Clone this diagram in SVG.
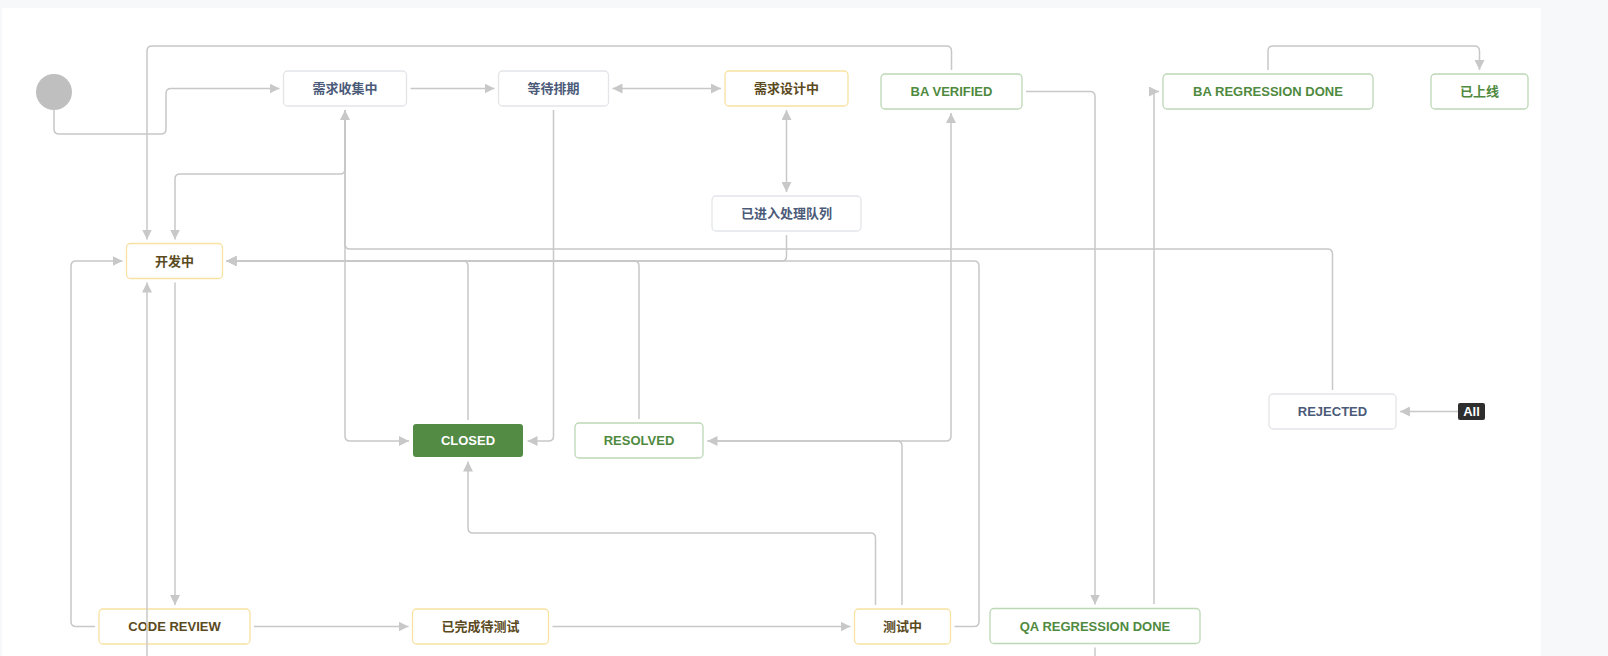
<svg xmlns="http://www.w3.org/2000/svg" width="1608" height="656" viewBox="0 0 1608 656">
<defs>
<marker id="ah" viewBox="0 0 10 10" refX="10" refY="5" markerWidth="10" markerHeight="10" markerUnits="userSpaceOnUse" orient="auto-start-reverse">
<path d="M0,0 L10,5 L0,10 z" fill="#c8c8c8"/>
</marker>
<style>
.n rect{fill:#fff;stroke-width:1.3}
.g rect{stroke:#e3e5e9}
.y rect{stroke:#f8e2a2}
.gr rect{stroke:#bcd8b5}
text{font-family:"Liberation Sans","Noto Sans CJK SC",sans-serif;font-size:13px;font-weight:bold;text-anchor:middle;dominant-baseline:central}
.g text{fill:#4b5a78}
.y text{fill:#5a4a1e}
.gr text{fill:#4f8a3f}
.c path{fill:none;stroke:#c8c8c8;stroke-width:1.5}
.c path.a{marker-end:url(#ah)}
</style>
</defs>
<rect x="0" y="0" width="1608" height="656" fill="#f7f8fa"/>
<rect x="2" y="8" width="1539" height="648" fill="#ffffff"/>

<g id="start"><circle cx="54" cy="92" r="18" fill="#bfbfbf"/></g>
<g id="n-collect" class="n g"><rect x="283.5" y="71" width="123" height="35" rx="4"/><text x="345" y="88.5">需求收集中</text></g>
<g id="n-wait" class="n g"><rect x="498.5" y="71" width="110" height="35" rx="4"/><text x="553.5" y="88.5">等待排期</text></g>
<g id="n-design" class="n y"><rect x="725" y="71" width="123" height="35" rx="4"/><text x="786.5" y="88.5">需求设计中</text></g>
<g id="n-baverified" class="n gr"><rect x="881" y="74" width="141" height="35" rx="4"/><text x="951.5" y="91.5">BA VERIFIED</text></g>
<g id="n-baregression" class="n gr"><rect x="1163" y="74" width="210" height="35" rx="4"/><text x="1268" y="91.5">BA REGRESSION DONE</text></g>
<g id="n-online" class="n gr"><rect x="1431" y="74" width="97" height="35" rx="4"/><text x="1479.5" y="91.5">已上线</text></g>
<g id="n-queue" class="n g"><rect x="712" y="196" width="149" height="35" rx="4"/><text x="786.5" y="213.5">已进入处理队列</text></g>
<g id="n-dev" class="n y"><rect x="126.5" y="243.5" width="96" height="35" rx="4"/><text x="174.5" y="261">开发中</text></g>
<g id="n-closed"><rect x="413" y="424" width="110" height="33" rx="3" fill="#538a44"/><text x="468" y="440.5" fill="#ffffff">CLOSED</text></g>
<g id="n-resolved" class="n gr"><rect x="575" y="423" width="128" height="35" rx="4"/><text x="639" y="440.5">RESOLVED</text></g>
<g id="n-rejected" class="n g"><rect x="1269" y="394" width="127" height="35" rx="4"/><text x="1332.5" y="411.5">REJECTED</text></g>
<g id="n-all"><rect x="1458" y="403" width="27" height="17" rx="2" fill="#2e2e2e"/><text x="1471.5" y="411.5" fill="#ffffff">All</text></g>
<g id="n-codereview" class="n y"><rect x="99" y="609" width="151" height="35" rx="4"/><text x="174.5" y="626.5">CODE REVIEW</text></g>
<g id="n-readytest" class="n y"><rect x="412.5" y="609" width="136" height="35" rx="4"/><text x="480.5" y="626.5">已完成待测试</text></g>
<g id="n-testing" class="n y"><rect x="854.5" y="609" width="96" height="35" rx="4"/><text x="902.5" y="626.5">测试中</text></g>
<g id="n-qaregression" class="n gr"><rect x="990" y="608.5" width="210" height="35" rx="4"/><text x="1095" y="626">QA REGRESSION DONE</text></g>

<g id="connectors" class="c">
<path class="a" d="M54,110 V129 Q54,134 59,134 H161 Q166,134 166,129 V93.5 Q166,88.5 171,88.5 H279.5"/>
<path class="a" d="M410.5,88.5 H494.5"/>
<path class="a" d="M612.5,88.5 H721" marker-start="url(#ah)"/>
<path class="a" d="M786.5,110 V192" marker-start="url(#ah)"/>
<path class="a" d="M951.5,70 V51 Q951.5,46 946.5,46 H152 Q147,46 147,51 V239.5"/>
<path class="a" d="M1026,91.5 H1090 Q1095,91.5 1095,96.5 V604.5"/>
<path class="a" d="M1268,70 V51 Q1268,46 1273,46 H1474.5 Q1479.5,46 1479.5,51 V70"/>
<path class="a" d="M1154,604 V91.5 L1159,91.5"/>
<path class="a" d="M345,110 V169 Q345,174 340,174 H180 Q175,174 175,179 V239.5"/>
<path class="a" d="M345,110 V436 Q345,441 350,441 H409"/>
<path class="a" d="M1332.5,390 V254 Q1332.5,249 1327.5,249 H350 Q345,249 345,244 V110"/>
<path class="a" d="M553.5,110 V436 Q553.5,441 548.5,441 H527.5"/>
<path class="a" d="M1458,411.5 H1400"/>
<path class="a" d="M468,420 V266 Q468,261 463,261 H226.5"/>
<path class="a" d="M639,419 V266 Q639,261 634,261 H226.5"/>
<path class="a" d="M786.5,235 V256 Q786.5,261 781.5,261 H226.5"/>
<path class="a" d="M954.5,626.5 H974 Q979,626.5 979,621.5 V266 Q979,261 974,261 H226.5"/>
<path class="a" d="M175,282.5 V605"/>
<path class="a" d="M95,626.5 H76 Q71,626.5 71,621.5 V266 Q71,261 76,261 H122.5"/>
<path class="a" d="M147,656 V282.5"/>
<path class="a" d="M254,626.5 H408.5"/>
<path class="a" d="M552.5,626.5 H850.5"/>
<path class="a" d="M875.5,605 V538 Q875.5,533 870.5,533 H473 Q468,533 468,528 V461.5"/>
<path class="a" d="M902,605 V446 Q902,441 897,441 H707.5"/>
<path class="a" d="M707.5,441 H946 Q951,441 951,436 V113"/>
<path d="M1095,647.5 V656"/>
</g>
</svg>
